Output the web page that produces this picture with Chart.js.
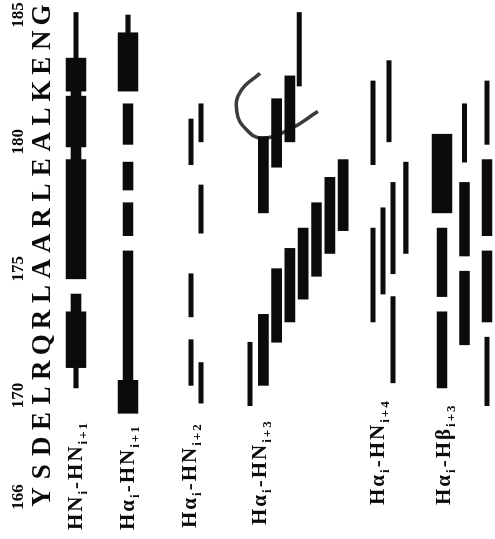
<!DOCTYPE html>
<html>
<head>
<meta charset="utf-8">
<script src="https://cdn.jsdelivr.net/npm/chart.js@4.4.0/dist/chart.umd.min.js"></script>
<style>
  html, body { margin: 0; padding: 0; background: #fff; overflow: hidden; }
  /* the plot is laid out sideways and turned a quarter turn */
  #wrap { position: absolute; left: 0; top: 0; width: 539px; height: 495px;
          transform-origin: 0 0; transform: translate(0, 539px) rotate(-90deg); }
</style>
</head>
<body>
<div id="wrap"><canvas id="noe" width="539" height="495"></canvas></div>
<script>
const sequence = ['Y','S','D','E','L','R','Q','R','L','A','A','R','L','E','A','L','K','E','N','G'];
const firstResidue = 166;
const residueTicks = [166, 170, 175, 180, 185];

const categoryLabels = [
  [['HN', 0], ['i', 1], ['-HN', 0], ['i+1', 1]],
  [['Hα', 0], ['i', 1], ['-HN', 0], ['i+1', 1]],
  [['Hα', 0], ['i', 1], ['-HN', 0], ['i+2', 1]],
  [['Hα', 0], ['i', 1], ['-HN', 0], ['i+3', 1]],
  [['Hα', 0], ['i', 1], ['-HN', 0], ['i+4', 1]],
  [['Hα', 0], ['i', 1], ['-Hβ', 0], ['i+3', 1]]
];

// NOE bars: [from residue, to residue, strength (1 weak, 2 medium, 3 strong), lane]
const hnHn1 = [
  [170.3, 171.1, 1, 0], [171.1, 173.3, 3, 0], [173.3, 174.0, 2, 0],
  [174.6, 179.3, 3, 0], [179.3, 179.8, 2, 0], [179.8, 181.8, 3, 0],
  [181.8, 182.0, 2, 0], [182.0, 183.3, 3, 0], [183.3, 185.1, 1, 0]
];
const haHn1 = [
  [169.3, 170.6, 3, 0], [170.6, 175.7, 2, 0], [176.3, 177.6, 2, 0],
  [178.1, 179.2, 2, 0], [179.9, 181.5, 2, 0], [182.0, 184.3, 3, 0],
  [184.3, 185.0, 1, 0]
];
const haHn2 = [
  [170.4, 172.2, 1, 0], [173.1, 174.8, 1, 0], [179.1, 180.9, 1, 0],
  [169.7, 171.3, 1, 1], [176.4, 178.3, 1, 1], [180.0, 181.5, 1, 1]
];
const haHn3 = [
  [169.6, 172.1, 1, 0], [170.4, 173.2, 2, 1], [172.1, 175.0, 2, 2],
  [172.9, 175.8, 2, 3], [173.8, 176.6, 2, 4], [174.7, 177.6, 2, 5],
  [175.6, 178.6, 2, 6], [176.5, 179.3, 2, 7], [177.2, 180.2, 2, 1],
  [179.0, 181.7, 2, 2], [180.0, 182.6, 2, 3], [182.2, 185.1, 1, 3.7]
];
const haHn4 = [
  [179.1, 182.4, 1, 0], [180.0, 183.2, 1, 2], [175.6, 179.2, 1, 4.1],
  [174.8, 178.4, 1, 2.5], [174.0, 177.4, 1, 1.25], [172.9, 176.6, 1, 0],
  [170.5, 173.9, 1, 2.5]
];
const haHb3 = [
  [177.2, 180.3, 3, 0], [173.9, 176.6, 2, 0], [170.3, 173.3, 2, 0],
  [179.2, 181.5, 1, 1], [175.5, 178.4, 2, 1], [172.0, 174.9, 2, 1],
  [179.9, 182.4, 1, 2], [176.3, 179.3, 2, 2], [172.9, 175.7, 2, 2],
  [169.6, 172.3, 1, 2]
];
// pen stroke looping round the upper i+3 bars: [residue, lane]
const hookPath = [
  [182.7, 0.75], [182.0, -0.7], [181.2, -1.0], [180.5, -0.3],
  [180.15, 0.9], [180.5, 3.0], [181.2, 5.1]
];

const groups = [hnHn1, haHn1, haHn2, haHn3, haHn4, haHb3];

// layout: track centre and lane spacing for each row group (y scale = canvas px)
const trackPos = [76, 128, 191, 250, 373, 442];
const laneGap = [0, 0, 10, 13.3, 8, 22.5];
const barWidth = { 1: 4.5, 2: 10, 3: 20 };
const labelStart = [9, 9, 11, 14, 34, 34];
const labelMid = [75, 127, 189, 259, 377, 443];
const ink = '#0b0b0b';

const datasets = [];
groups.forEach((bars, c) => {
  [1, 2, 3].forEach(s => {
    const pts = bars.filter(b => b[2] === s)
      .map(b => ({ x: [b[0], b[1]], y: trackPos[c] + b[3] * laneGap[c] }));
    if (pts.length) {
      datasets.push({
        type: 'bar', data: pts, backgroundColor: ink,
        barThickness: barWidth[s], grouped: false, borderWidth: 0
      });
    }
  });
});
datasets.push({
  type: 'line',
  data: hookPath.map(([r, l]) => ({ x: r, y: trackPos[3] + l * laneGap[3] })),
  borderColor: '#3c3c3c', borderWidth: 3.5, tension: 0.45,
  pointRadius: 0, fill: false
});

// row titles with subscripts, drawn along the left edge
const rowLabels = {
  id: 'rowLabels',
  afterDatasetsDraw(chart) {
    const ctx = chart.ctx;
    ctx.save();
    ctx.fillStyle = ink;
    ctx.textBaseline = 'alphabetic';
    ctx.letterSpacing = '2px';
    categoryLabels.forEach((parts, c) => {
      let x = labelStart[c];
      const base = labelMid[c] + 7;
      parts.forEach(([text, sub]) => {
        ctx.font = sub ? 'bold 13px "Liberation Serif"' : 'bold 21px "Liberation Serif"';
        ctx.fillText(text, x, sub ? base + 5 : base);
        x += ctx.measureText(text).width;
      });
    });
    ctx.restore();
  }
};

const xMin = 164.344, xMax = 185.591;

new Chart(document.getElementById('noe'), {
  type: 'bar',
  data: { datasets },
  options: {
    indexAxis: 'y',
    responsive: false,
    animation: false,
    events: [],
    layout: { padding: 0 },
    plugins: { legend: { display: false }, tooltip: { enabled: false } },
    scales: {
      x: {
        type: 'linear', position: 'top', weight: 1, min: xMin, max: xMax,
        grid: { display: false, drawTicks: false }, border: { display: false },
        afterBuildTicks: s => { s.ticks = residueTicks.map(v => ({ value: v })); },
        afterFit: s => { s.height = 28; },
        ticks: {
          color: ink, padding: -1, maxRotation: 0, minRotation: 0, autoSkip: false,
          font: { family: '"Liberation Serif"', size: 17, weight: 'bold' }
        }
      },
      seq: {
        type: 'linear', axis: 'x', position: 'top', weight: 0, min: xMin, max: xMax,
        grid: { display: false, drawTicks: false }, border: { display: false },
        afterBuildTicks: s => { s.ticks = sequence.map((_, i) => ({ value: firstResidue + i })); },
        afterFit: s => { s.height = 28; },
        ticks: {
          color: ink, padding: -3, maxRotation: 0, minRotation: 0, autoSkip: false,
          font: { family: '"Liberation Serif"', size: 27, weight: 'bold' },
          callback: (v, i) => sequence[i]
        }
      },
      y: { type: 'linear', display: false, reverse: true, min: 56, max: 495, offset: false }
    }
  },
  plugins: [rowLabels]
});
</script>
</body>
</html>
